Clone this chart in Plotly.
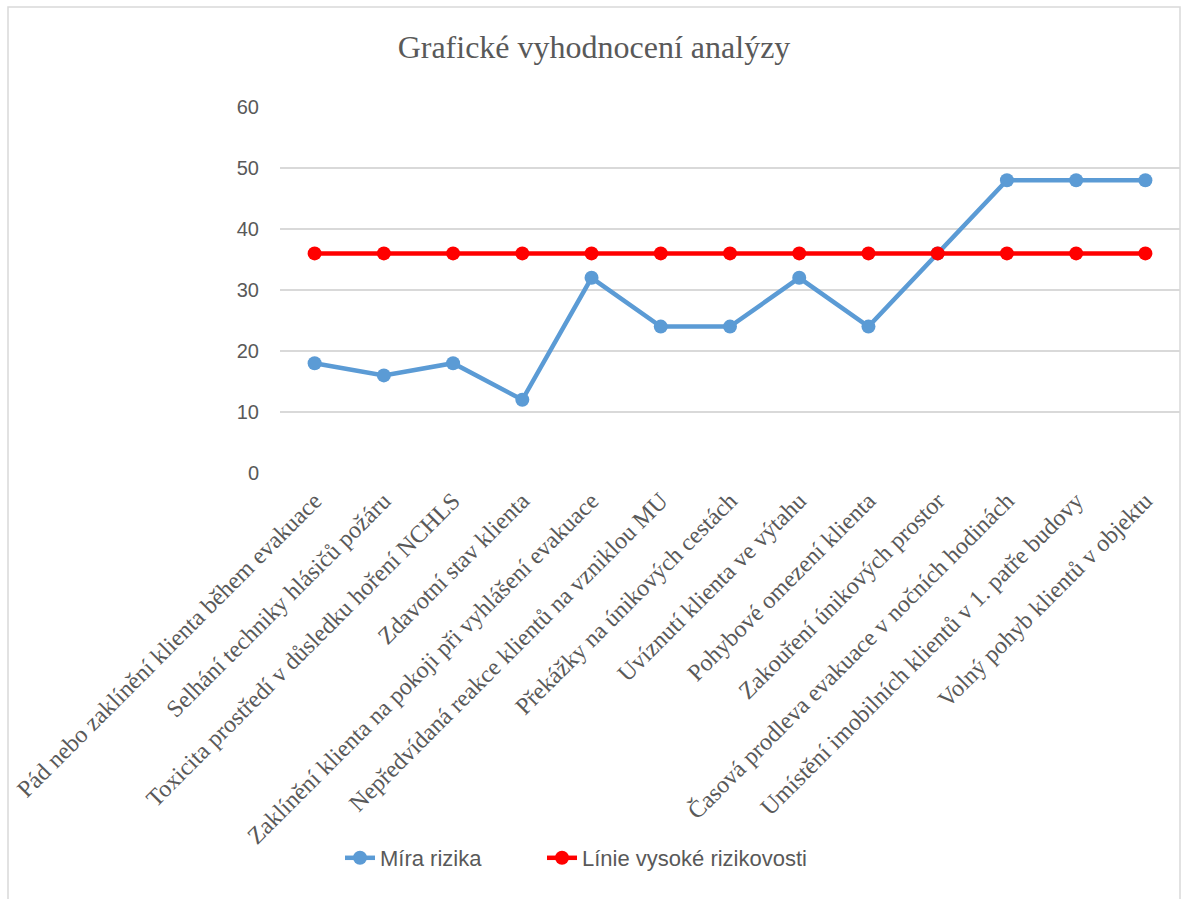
import plotly.graph_objects as go

categories = [
    "Pád nebo zaklínění klienta během evakuace",
    "Selhání techniky hlásičů požáru",
    "Toxicita prostředí v důsledku hoření NCHLS",
    "Zdavotní stav klienta",
    "Zaklínění klienta na pokoji při vyhlášení evakuace",
    "Nepředvídaná reakce klientů na vzniklou MU",
    "Překážky na únikových cestách",
    "Uvíznutí klienta ve výtahu",
    "Pohybové omezení klienta",
    "Zakouření únikových prostor",
    "Časová prodleva evakuace v nočních hodinách",
    "Umístění imobilních klientů v 1. patře budovy",
    "Volný pohyb klientů v objektu",
]
mira_rizika = [18, 16, 18, 12, 32, 24, 24, 32, 24, 36, 48, 48, 48]
linie_vysoke = [36, 36, 36, 36, 36, 36, 36, 36, 36, 36, 36, 36, 36]
y_ticks = [0, 10, 20, 30, 40, 50, 60]

BLUE = "#5B9BD5"
RED = "#FF0000"
TXT = "#595959"

fig = go.Figure()
fig.add_trace(go.Scatter(
    x=categories, y=mira_rizika, name="Míra rizika", mode="lines+markers",
    line=dict(color=BLUE, width=4.5), marker=dict(color=BLUE, size=14),
    legend="legend",
))
fig.add_trace(go.Scatter(
    x=categories, y=linie_vysoke, name="Línie vysoké rizikovosti", mode="lines+markers",
    line=dict(color=RED, width=4.5), marker=dict(color=RED, size=14),
    legend="legend2",
))

L, R, T, B = 280, 1, 107, 426
W, H = 1181, 899
pw = W - L - R
ph = H - T - B

leg_common = dict(orientation="h", xanchor="left",
                  y=-(858 - (T + ph)) / ph, yanchor="middle",
                  font=dict(family="Liberation Sans", size=22, color=TXT),
                  bgcolor="rgba(0,0,0,0)")

fig.update_layout(
    width=W, height=H,
    margin=dict(l=L, r=R, t=T, b=B),
    paper_bgcolor="white", plot_bgcolor="white",
    title=dict(text="Grafické vyhodnocení analýzy", x=(594) / W, xanchor="center",
               y=1 - 47 / H, yanchor="middle",
               font=dict(family="Liberation Serif", size=32, color=TXT)),
    xaxis=dict(type="category", tickangle=-45, showgrid=False, showline=False,
               ticks="", tickfont=dict(family="Liberation Serif", size=24, color=TXT),
               ticklabelstandoff=8,
               range=[-0.5, len(categories) - 0.5], fixedrange=True),
    yaxis=dict(range=[0, 60], tickvals=y_ticks, showgrid=True, gridcolor="#D9D9D9",
               gridwidth=1.5, zeroline=False, showline=False, ticks="",
               tickfont=dict(family="Liberation Sans", size=20, color=TXT),
               ticklabelstandoff=20, fixedrange=True),
    legend=dict(x=(340 - L) / pw, **leg_common),
    legend2=dict(x=(542 - L) / pw, **leg_common),
    showlegend=True,
)

fig.add_shape(type="rect", xref="paper", yref="paper",
              x0=(8 - L) / pw, x1=(1180 - L) / pw,
              y0=-(H + 5 - (T + ph)) / ph, y1=1 + (T - 7) / ph,
              line=dict(color="#D9D9D9", width=1.5), layer="below")

fig.write_html("out.html")
